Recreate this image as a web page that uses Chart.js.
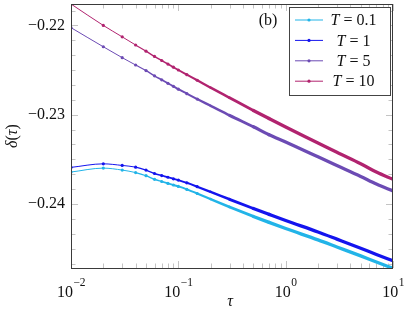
<!DOCTYPE html>
<html>
<head>
<meta charset="UTF-8">
<title>delta(tau)</title>
<script src="https://cdn.jsdelivr.net/npm/chart.js"></script>
<style>
  body { margin: 0; background: #ffffff; }
  #wrap { width: 411px; height: 312px; }
</style>
</head>
<body>
<div id="wrap"><canvas id="deltaChart" width="411" height="312"></canvas></div>
<script>
// values
var tau = [0.01, 0.02, 0.03, 0.04, 0.05, 0.06, 0.07, 0.08, 0.09, 0.1, 0.12, 0.15, 0.2, 0.3, 0.5, 0.7, 1, 2, 3, 5, 7, 10];
var deltaT01 = [-0.23642, -0.23598, -0.23620, -0.23648, -0.23683, -0.23723, -0.23748, -0.23769, -0.23787, -0.23803, -0.23836, -0.23882, -0.23945, -0.24033, -0.24139, -0.24206, -0.24275, -0.24402, -0.24481, -0.24581, -0.24650, -0.24720];
var deltaT1 = [-0.23590, -0.23550, -0.23568, -0.23587, -0.23620, -0.23658, -0.23681, -0.23700, -0.23718, -0.23732, -0.23763, -0.23806, -0.23864, -0.23947, -0.24050, -0.24116, -0.24185, -0.24313, -0.24393, -0.24495, -0.24565, -0.24636];
var deltaT5 = [-0.22025, -0.22239, -0.22361, -0.22443, -0.22506, -0.22564, -0.22609, -0.22648, -0.22682, -0.22714, -0.22764, -0.22825, -0.22900, -0.23007, -0.23135, -0.23223, -0.23305, -0.23472, -0.23569, -0.23691, -0.23777, -0.23853];
var deltaT10 = [-0.21760, -0.22000, -0.22128, -0.22219, -0.22288, -0.22347, -0.22393, -0.22433, -0.22468, -0.22499, -0.22551, -0.22614, -0.22697, -0.22810, -0.22952, -0.23043, -0.23138, -0.23316, -0.23421, -0.23549, -0.23642, -0.23723];
var tempLabels = ['0.1', '1', '5', '10'];
var xMajorTicks = [0.01, 0.1, 1, 10];
var yMajorTicks = [-0.24, -0.23, -0.22];

var seriesColors = ['#22b4e8', '#1414ee', '#6c4bb4', '#b1236f'];
var serif = "'Liberation Serif', 'DejaVu Serif', serif";

function pairs(ys) {
    return ys.map(function (y, i) { return { x: tau[i], y: y }; });
}

// the original has a marker every 0.01, so the line looks thicker where they pile up
function segWidth(ctx) {
    var t = tau[ctx.p0DataIndex];
    var f = (Math.log10(t) + 1.5) / 1.2;
    f = Math.max(0, Math.min(1, f));
    return 1 + 2.3 * f;
}

function makeSet(label, ys, color) {
    return {
        label: label,
        data: pairs(ys),
        borderColor: color,
        backgroundColor: color,
        borderWidth: 1,
        borderCapStyle: 'round',
        borderJoinStyle: 'round',
        pointRadius: function (ctx) { return tau[ctx.dataIndex] <= 0.15 ? 1.6 : 0; },
        pointBorderWidth: 0,
        pointBackgroundColor: color,
        cubicInterpolationMode: 'monotone',
        segment: { borderWidth: segWidth }
    };
}

function fmtY(v) {
    return '\u2212' + Math.abs(v).toFixed(2);
}

var frame = {
    id: 'frame',
    beforeDatasetsDraw: function (chart) {
        var ctx = chart.ctx, a = chart.chartArea;
        var xs = chart.scales.x, ys = chart.scales.y;
        ctx.save();
        ctx.strokeStyle = '#c4c4c4';
        ctx.lineWidth = 1;
        ctx.beginPath();
        ys.ticks.forEach(function (t) {
            var py = Math.round(ys.getPixelForValue(t.value)) + 0.5;
            var len = t.major ? 7 : 4.5;
            ctx.moveTo(a.left, py); ctx.lineTo(a.left + len, py);
            ctx.moveTo(a.right, py); ctx.lineTo(a.right - len, py);
        });
        xs.ticks.forEach(function (t) {
            var px = Math.round(xs.getPixelForValue(t.value)) + 0.5;
            var len = t.major ? 7 : 4.5;
            ctx.moveTo(px, a.bottom); ctx.lineTo(px, a.bottom - len);
            ctx.moveTo(px, a.top); ctx.lineTo(px, a.top + len);
        });
        ctx.stroke();
        ctx.restore();
    },
    afterDraw: function (chart) {
        var ctx = chart.ctx, a = chart.chartArea;
        var xs = chart.scales.x;
        ctx.save();
        // axis box
        ctx.strokeStyle = '#3a3a3a';
        ctx.lineWidth = 1;
        ctx.strokeRect(a.left + 0.5, a.top + 0.5, a.right - a.left - 1, a.bottom - a.top);

        // x tick labels as 10^n
        ctx.fillStyle = '#111';
        ctx.textBaseline = 'alphabetic';
        ctx.textAlign = 'left';
        xMajorTicks.forEach(function (v) {
            var e = Math.round(Math.log10(v));
            var ex = e < 0 ? '\u2212' + Math.abs(e) : String(e);
            ctx.font = '16px ' + serif;
            var w1 = ctx.measureText('10').width;
            ctx.font = '11.5px ' + serif;
            var w2 = ctx.measureText(ex).width;
            var x0 = xs.getPixelForValue(v) - (w1 + w2) / 2;
            ctx.font = '16px ' + serif;
            ctx.fillText('10', x0, 296.5);
            ctx.font = '11.5px ' + serif;
            ctx.fillText(ex, x0 + w1 + 0.5, 285.5);
        });

        // axis titles
        ctx.font = 'italic 16px ' + serif;
        ctx.textAlign = 'center';
        ctx.textBaseline = 'middle';
        ctx.fillText('\u03c4', (a.left + a.right) / 2 - 2, 302);

        ctx.save();
        ctx.translate(13, (a.top + a.bottom) / 2);
        ctx.rotate(-Math.PI / 2);
        var parts = [['\u03b4', 'italic '], ['(', ''], ['\u03c4', 'italic '], [')', '']];
        var total = 0;
        parts.forEach(function (p) { ctx.font = p[1] + '16px ' + serif; total += ctx.measureText(p[0]).width; });
        var cx = -total / 2;
        ctx.textAlign = 'left';
        parts.forEach(function (p) {
            ctx.font = p[1] + '16px ' + serif;
            ctx.fillText(p[0], cx, 0);
            cx += ctx.measureText(p[0]).width;
        });
        ctx.restore();

        // panel tag
        ctx.font = '16px ' + serif;
        ctx.textAlign = 'center';
        ctx.fillText('(b)', 268, 21);

        // legend box
        var bx = a.right - 104, by = a.top + 3, bw = 101, bh = 88;
        ctx.fillStyle = '#ffffff';
        ctx.fillRect(bx, by, bw, bh);
        ctx.strokeStyle = '#444';
        ctx.strokeRect(bx + 0.5, by + 0.5, bw, bh);
        chart.data.datasets.forEach(function (ds, i) {
            var ry = by + 13 + i * 20.4;
            ctx.strokeStyle = ds.borderColor;
            ctx.lineWidth = 1;
            ctx.beginPath();
            ctx.moveTo(bx + 6, ry); ctx.lineTo(bx + 34, ry);
            ctx.stroke();
            ctx.fillStyle = ds.borderColor;
            ctx.beginPath();
            ctx.arc(bx + 20, ry, 1.6, 0, Math.PI * 2);
            ctx.fill();
            var rest = ' = ' + tempLabels[i];
            ctx.font = 'italic 16px ' + serif;
            var wT = ctx.measureText('T').width;
            ctx.font = '16px ' + serif;
            var wR = ctx.measureText(rest).width;
            var tx = bx + 64.5 - (wT + wR) / 2;
            ctx.fillStyle = '#111';
            ctx.textAlign = 'left';
            ctx.font = 'italic 16px ' + serif;
            ctx.fillText('T', tx, ry + 1);
            ctx.font = '16px ' + serif;
            ctx.fillText(rest, tx + wT, ry + 1);
        });
        ctx.restore();
    }
};

var ctx = document.getElementById('deltaChart').getContext('2d');
var deltaChart = new Chart(ctx, {
    type: 'line',
    data: {
        datasets: [
            makeSet('T = ' + tempLabels[0], deltaT01, seriesColors[0]),
            makeSet('T = ' + tempLabels[1], deltaT1, seriesColors[1]),
            makeSet('T = ' + tempLabels[2], deltaT5, seriesColors[2]),
            makeSet('T = ' + tempLabels[3], deltaT10, seriesColors[3])
        ]
    },
    options: {
        responsive: false,
        animation: false,
        layout: { padding: { top: 1, right: 18, left: 0, bottom: 0 } },
        plugins: { legend: { display: false }, tooltip: { enabled: false } },
        scales: {
            x: {
                type: 'logarithmic',
                min: 0.01,
                max: 10,
                grid: { display: false, drawTicks: false },
                border: { display: false },
                ticks: { display: false },
                afterBuildTicks: function (scale) {
                    var out = [];
                    for (var d = 0; d < 3; d++) {
                        for (var m = 1; m <= 9; m++) {
                            out.push({ value: m * xMajorTicks[d], major: m === 1 });
                        }
                    }
                    out.push({ value: 10, major: true });
                    scale.ticks = out;
                },
                afterFit: function (scale) {
                    scale.height = 44;
                    scale.paddingLeft = 0;
                    scale.paddingRight = 0;
                }
            },
            y: {
                min: -0.247165,
                max: -0.2176,
                grid: { display: false, drawTicks: false },
                border: { display: false },
                ticks: {
                    autoSkip: false,
                    padding: 6,
                    color: '#111',
                    font: { family: serif, size: 16 },
                    callback: function (v) {
                        return yMajorTicks.some(function (m) { return Math.abs(m - v) < 1e-6; }) ? fmtY(v) : '';
                    }
                },
                afterBuildTicks: function (scale) {
                    var out = [];
                    for (var k = -148; k <= -131; k++) {
                        out.push({ value: k / 600, major: k % 6 === 0 });
                    }
                    scale.ticks = out;
                },
                afterFit: function (scale) {
                    scale.width = 71;
                    scale.paddingTop = 0;
                    scale.paddingBottom = 0;
                }
            }
        }
    },
    plugins: [frame]
});
</script>
</body>
</html>
